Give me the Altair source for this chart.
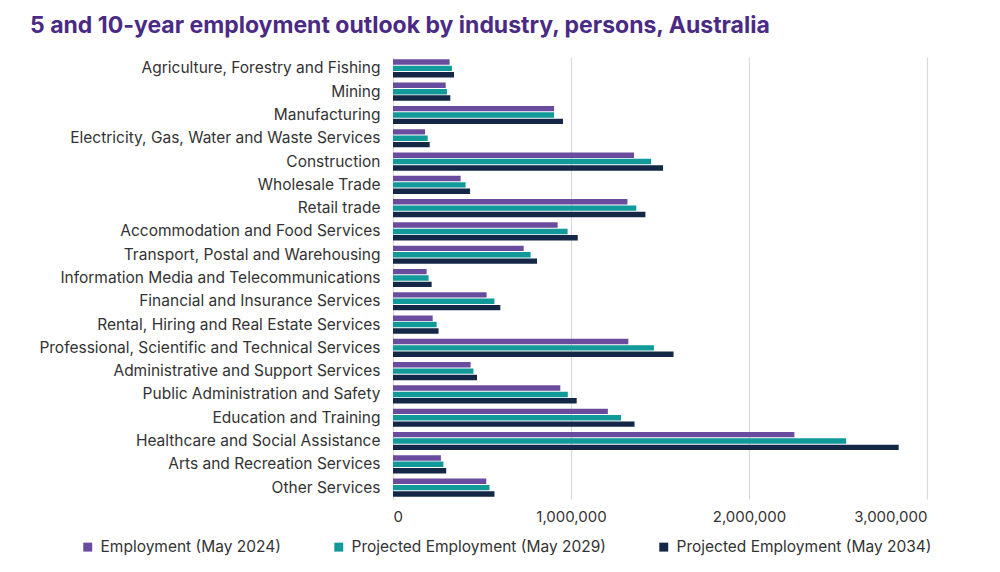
import altair as alt
import pandas as pd

industries = [
    "Agriculture, Forestry and Fishing",
    "Mining",
    "Manufacturing",
    "Electricity, Gas, Water and Waste Services",
    "Construction",
    "Wholesale Trade",
    "Retail trade",
    "Accommodation and Food Services",
    "Transport, Postal and Warehousing",
    "Information Media and Telecommunications",
    "Financial and Insurance Services",
    "Rental, Hiring and Real Estate Services",
    "Professional, Scientific and Technical Services",
    "Administrative and Support Services",
    "Public Administration and Safety",
    "Education and Training",
    "Healthcare and Social Assistance",
    "Arts and Recreation Services",
    "Other Services",
]
series = [
    "Employment (May 2024)",
    "Projected Employment (May 2029)",
    "Projected Employment (May 2034)",
]
emp_2024 = [318000, 296000, 905000, 180000, 1354000, 380000, 1317000, 925000, 734000,
            189000, 526000, 223000, 1322000, 436000, 940000, 1207000, 2255000, 269000, 524000]
emp_2029 = [331000, 303000, 905000, 195000, 1450000, 408000, 1367000, 981000, 773000,
            200000, 570000, 245000, 1466000, 452000, 982000, 1281000, 2546000, 283000, 542000]
emp_2034 = [343000, 322000, 955000, 206000, 1517000, 433000, 1418000, 1038000, 809000,
            217000, 603000, 256000, 1576000, 472000, 1032000, 1357000, 2841000, 299000, 570000]
colors = ["#6A4C9F", "#12999A", "#142746"]

rows = []
for vals, s in zip([emp_2024, emp_2029, emp_2034], series):
    for ind, v in zip(industries, vals):
        rows.append({"Industry": ind, "Series": s, "Value": v})
df = pd.DataFrame(rows)

chart = alt.Chart(df).mark_bar().encode(
    y=alt.Y("Industry:N", sort=industries, title=None,
            scale=alt.Scale(paddingInner=0.22, paddingOuter=0.1),
            axis=alt.Axis(domain=False, ticks=False, labelPadding=13, labelFontSize=15.5,
                          labelColor="#333333", labelFont="Inter", labelLimit=400)),
    yOffset=alt.YOffset("Series:N", sort=series, scale=alt.Scale(paddingInner=0.15)),
    x=alt.X("Value:Q", title=None,
            scale=alt.Scale(domain=[0, 3000000], nice=False),
            axis=alt.Axis(values=[0, 1000000, 2000000, 3000000], format=",.0f", domain=False,
                          ticks=False, labelPadding=10, labelFontSize=15, labelColor="#333333",
                          labelFont="Inter", gridColor="#D9D9D9", gridWidth=1.2)),
    color=alt.Color("Series:N", sort=series,
                    scale=alt.Scale(domain=series, range=colors),
                    legend=alt.Legend(title=None, orient="none", direction="horizontal",
                                      legendX=-313, legendY=482, symbolType="square",
                                      symbolSize=80, symbolStrokeWidth=0, labelFontSize=15.5,
                                      labelFont="Inter", labelColor="#333333", labelLimit=400,
                                      columnPadding=50, labelOffset=5)),
).properties(
    width=534,
    height=442,
    background="white",
    padding={"left": 385, "top": 49, "right": 50, "bottom": 60},
    autosize=alt.AutoSizeParams(type="none"),
    title=alt.TitleParams("5 and 10-year employment outlook by industry, persons, Australia",
                          anchor="start", frame="group", dx=-363, offset=19, fontSize=23,
                          fontWeight="bold", font="Inter", color="#4A2A84"),
).configure_view(stroke=None)

chart.save("out.html", embed_options={"renderer": "svg", "actions": False})
